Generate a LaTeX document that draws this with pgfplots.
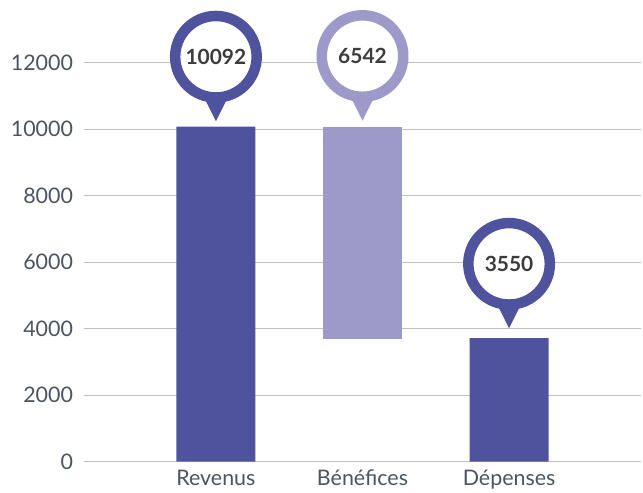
\documentclass[border=0pt]{standalone}
\usepackage{fontspec}
\setmainfont{Lato}
\usepackage{pgfplots}
\pgfplotsset{compat=1.18}
\definecolor{dark}{RGB}{79,83,157}
\definecolor{light}{RGB}{157,153,200}
\definecolor{tickc}{RGB}{75,85,96}
\definecolor{gridc}{RGB}{192,192,192}
\definecolor{numc}{RGB}{60,60,60}
\pgfdeclareplotmark{pin}{%
  \pgfpathmoveto{\pgfpoint{0bp}{0bp}}%
  \pgfpathlineto{\pgfpoint{-18bp}{36bp}}%
  \pgfpathlineto{\pgfpoint{18bp}{36bp}}%
  \pgfpathclose
  \pgfusepath{fill}%
  \begin{pgfscope}%
  \pgfsetlinewidth{10.5bp}%
  \pgfsetfillcolor{white}%
  \pgfpathcircle{\pgfpoint{0bp}{64.5bp}}{40.75bp}%
  \pgfusepath{fill,stroke}%
  \end{pgfscope}%
}
\begin{document}
\begin{tikzpicture}
\useasboundingbox (-84bp,-31.3bp) rectangle (559bp,461.7bp);
\begin{axis}[
  at={(0,0)}, anchor=south west,
  scale only axis, width=557bp, height=399bp,
  xmin=-0.9, xmax=2.9, ymin=0, ymax=12000,
  clip=false,
  axis line style={draw=none},
  major tick length=0pt,
  ytick={0,2000,4000,6000,8000,10000,12000},
  xtick={0,1,2},
  xticklabels={Revenus,Bénéfices,Dépenses},
  ymajorgrids,
  grid style={gridc, line width=1.3bp},
  ticklabel style={font=\fontsize{21.5}{24}\selectfont, text=tickc},
  /pgf/number format/assume math mode=true,
  /pgf/number format/set thousands separator={},
  scaled y ticks=false,
  yticklabel style={xshift=-7.5bp},
  xticklabel style={text height=14bp, text depth=4bp, yshift=-6.5bp},
]
\addplot[ybar, bar width=0.54, fill=dark, draw=none] coordinates {(0,10075) (2,3720)};
\addplot[fill=light, draw=none] coordinates {(0.73,3690) (1.27,3690) (1.27,10075) (0.73,10075)};
\addplot[only marks, mark=pin, mark options={fill=dark, draw=dark},
  nodes near coords, point meta=explicit symbolic,
  every node near coord/.append style={anchor=center, yshift=64.5bp, font=\bfseries\fontsize{21}{21}\selectfont, text=numc}]
  coordinates {(0,10240)[10092] (2,4012)[3550]};
\addplot[only marks, mark=pin, mark options={fill=light, draw=light},
  nodes near coords, point meta=explicit symbolic,
  every node near coord/.append style={anchor=center, yshift=64.5bp, font=\bfseries\fontsize{21}{21}\selectfont, text=numc}]
  coordinates {(1,10260)[6542]};
\end{axis}
\end{tikzpicture}
\end{document}
